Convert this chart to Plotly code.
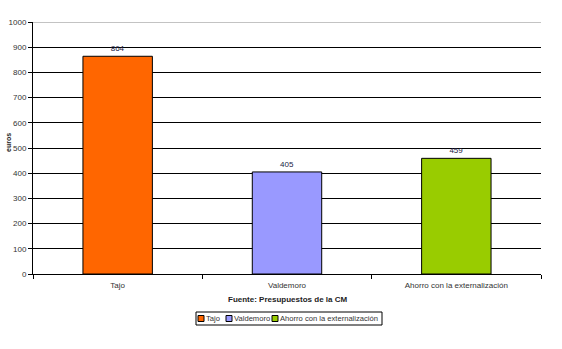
import plotly.graph_objects as go

categories = ["Tajo", "Valdemoro", "Ahorro con la externalización"]
values = [864, 405, 459]
colors = ["#FF6600", "#9999FF", "#99CC00"]
y_ticks = list(range(0, 1001, 100))

font = "Liberation Sans, Arial, sans-serif"
L, R, T, B = 33, 21, 22, 75
W, H = 562, 349
PW, PH = W - L - R, H - T - B


def px(x):
    return (x - L) / PW


def py(y):
    return (H - B - y) / PH


fig = go.Figure()
for c, v, col in zip(categories, values, colors):
    fig.add_trace(go.Bar(
        x=[c], y=[v], name=c, marker=dict(color=col, line=dict(color="black", width=1)),
        width=0.41, text=[str(v)], textposition="outside",
        textfont=dict(family=font, size=8, color="#222244"), cliponaxis=False,
        showlegend=False,
    ))

# legend drawn as box + swatches + labels
shapes = [dict(type="rect", xref="paper", yref="paper", x0=px(196), x1=px(382),
               y0=py(325), y1=py(312), line=dict(color="black", width=1), fillcolor="white"),
          dict(type="line", xref="paper", yref="y", x0=0, x1=1, y0=y_ticks[-1], y1=y_ticks[-1],
               line=dict(color="#888888", width=1))]
annotations = []
sw_x = [198, 226, 272]
for c, col, sx in zip(categories, colors, sw_x):
    shapes.append(dict(type="rect", xref="paper", yref="paper", x0=px(sx), x1=px(sx + 6),
                       y0=py(321.5), y1=py(315.5), line=dict(color="black", width=1),
                       fillcolor=col))
    annotations.append(dict(text=c, x=px(sx + 6), y=py(318.5), xref="paper", yref="paper",
                            xanchor="left", yanchor="middle", showarrow=False,
                            font=dict(size=7.6, color="#333333")))

annotations += [
    dict(text="<b>Fuente: Presupuestos de la CM</b>", x=0.5, y=py(299), xref="paper",
         yref="paper", xanchor="center", yanchor="middle", showarrow=False,
         font=dict(size=8, color="#222222")),
    dict(text="<b>euros</b>", x=px(8), y=py(143), xref="paper", yref="paper",
         xanchor="center", yanchor="middle", textangle=-90, showarrow=False,
         font=dict(size=7, color="#222222")),
]

fig.update_layout(
    width=W, height=H, barmode="overlay",
    margin=dict(l=L, r=R, t=T, b=B),
    plot_bgcolor="white", paper_bgcolor="white",
    font=dict(family=font, size=8, color="#333333"),
    showlegend=False,
    xaxis=dict(type="category", showline=True, linecolor="black", linewidth=1,
               ticks="outside", tickson="boundaries", ticklen=4, tickcolor="black",
               tickfont=dict(size=8, color="#333333"), showgrid=False,
               automargin=False, ticklabelstandoff=3),
    yaxis=dict(range=[0, 1000], tickvals=y_ticks, showgrid=True, gridcolor="black",
               gridwidth=1, showline=True, linecolor="black", linewidth=1,
               ticks="outside", ticklen=4, tickcolor="black", zeroline=False,
               tickfont=dict(size=8, color="#333333"), automargin=False),
    shapes=shapes,
    annotations=annotations,
)
fig.write_html("out.html")
